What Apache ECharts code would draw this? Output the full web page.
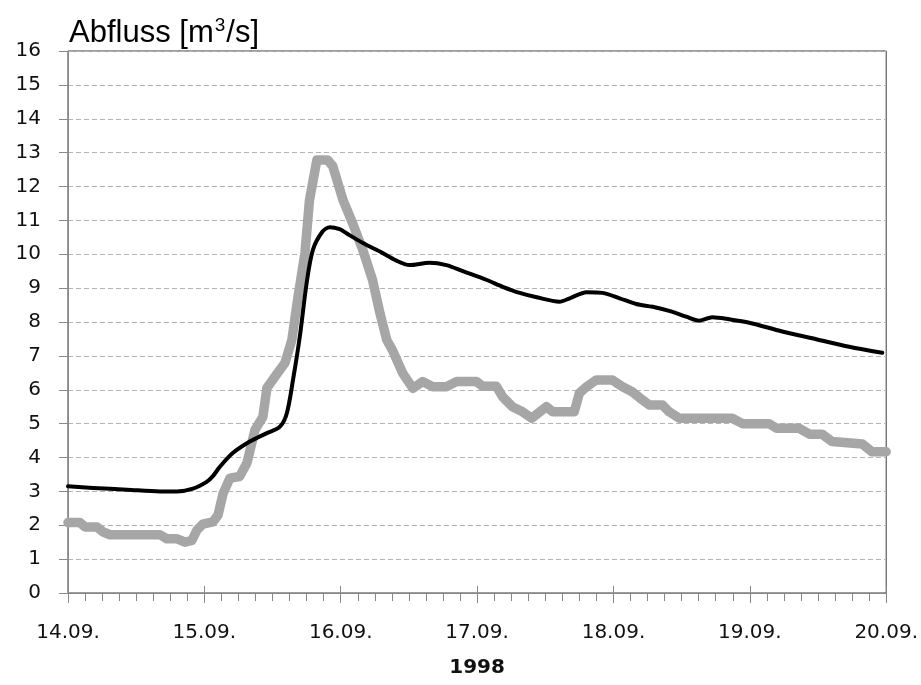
<!DOCTYPE html>
<html>
<head>
<meta charset="utf-8">
<script src="https://cdn.jsdelivr.net/npm/echarts@6/dist/echarts.min.js"></script>
<style>
html,body{margin:0;padding:0;background:#fff;}
#chart{width:921px;height:685px;}
</style>
</head>
<body>
<div id="chart"></div>
<script>
// Tick labels (days) and axis text
var dayLabels = ['14.09.', '15.09.', '16.09.', '17.09.', '18.09.', '19.09.', '20.09.'];
var yearLabel = '1998';

// Black series: hours since 14.09. 00:00 and discharge [m3/s]
var blackHours = [0, 4.4, 10.4, 16.2, 19.2, 22, 24.4, 25.5, 26.7, 29, 32, 35, 37.3, 38.5, 39.6, 40.8, 42, 43.1, 44.8, 46.1, 47.8, 49, 51.9, 54.9, 57.8, 60.1, 63.6, 66.6, 69.5, 73.7, 76.5, 79.5, 82.5, 86.5, 88.3, 91.3, 94.1, 97.1, 100, 102.9, 105.8, 108.8, 111.1, 113.4, 116.4, 119.9, 125.7, 131.7, 137.5, 143.3];
var blackValues = [3.15, 3.1, 3.05, 3.0, 3.0, 3.08, 3.28, 3.45, 3.72, 4.13, 4.47, 4.72, 4.91, 5.3, 6.29, 7.57, 9.15, 10.13, 10.67, 10.8, 10.74, 10.62, 10.33, 10.08, 9.81, 9.68, 9.75, 9.68, 9.5, 9.24, 9.04, 8.86, 8.73, 8.6, 8.7, 8.88, 8.86, 8.7, 8.53, 8.45, 8.33, 8.16, 8.04, 8.14, 8.08, 7.98, 7.72, 7.49, 7.27, 7.09];

// Grey series
var greyHours = [0, 2.1, 3, 5.1, 6.2, 7.4, 16.2, 17.4, 19.2, 20.6, 21.8, 22.7, 23.7, 25.5, 26.4, 27.3, 28.5, 30.2, 31.5, 32.9, 34.3, 35, 36.7, 38.2, 39.4, 40.4, 41.7, 42.5, 43.8, 45.7, 46.6, 48.4, 50.1, 51.9, 53.6, 54.9, 56.1, 57.1, 58.9, 60.7, 62.4, 64.2, 66.6, 68.4, 71.9, 73, 75.4, 76.5, 78.2, 80, 81.6, 84.2, 85.3, 89.1, 90, 91.3, 93, 95.8, 97.6, 99.3, 101.1, 102.3, 104.6, 105.8, 107.6, 116.9, 118.7, 123.4, 124.7, 128.7, 130.5, 132.7, 134.5, 139.8, 141.5, 144];
var greyValues = [2.08, 2.08, 1.95, 1.95, 1.8, 1.72, 1.72, 1.6, 1.6, 1.5, 1.55, 1.86, 2.03, 2.1, 2.3, 2.94, 3.39, 3.44, 3.84, 4.81, 5.2, 6.05, 6.45, 6.8, 7.47, 8.65, 10.03, 11.6, 12.78, 12.78, 12.6, 11.6, 10.91, 10.12, 9.24, 8.26, 7.47, 7.17, 6.49, 6.04, 6.24, 6.09, 6.09, 6.24, 6.24, 6.1, 6.1, 5.79, 5.5, 5.35, 5.16, 5.5, 5.35, 5.35, 5.9, 6.09, 6.29, 6.29, 6.09, 5.94, 5.7, 5.55, 5.55, 5.35, 5.16, 5.16, 5.0, 5.0, 4.86, 4.86, 4.69, 4.69, 4.47, 4.4, 4.17, 4.17];

function pairs(xs, ys) { return xs.map(function (x, i) { return [x, ys[i]]; }); }

var chart = echarts.init(document.getElementById('chart'));
var labelFont = 'DejaVu Sans';
chart.setOption({
  animation: false,
  backgroundColor: '#ffffff',
  title: {
    text: '{m|Abfluss [m}{s|3}{m|/s]}',
    left: 64, top: 11,
    textStyle: {
      fontWeight: 'normal',
      rich: {
        m: { fontFamily: 'Liberation Sans', fontSize: 31, fontWeight: 'normal', color: '#000', lineHeight: 34 },
        s: { fontFamily: 'Liberation Sans', fontSize: 19, fontWeight: 'normal', color: '#000', verticalAlign: 'top', lineHeight: 34, padding: [0, 1, 12, 1] }
      }
    }
  },
  grid: { left: 68, right: 34, top: 51, bottom: 92, show: true, borderColor: '#3a3a3a', borderWidth: 1, backgroundColor: 'transparent' },
  xAxis: [{
    type: 'value', min: 0, max: 144, interval: 24,
    axisLine: { show: true, onZero: false, lineStyle: { color: '#888', width: 1 } },
    axisTick: { show: true, length: 10, lineStyle: { color: '#888' } },
    minorTick: { show: true, splitNumber: 8, length: 8, lineStyle: { color: '#888' } },
    splitLine: { show: false },
    axisLabel: {
      margin: 30, fontFamily: labelFont, fontSize: 20, color: '#111',
      formatter: function (v) { return dayLabels[Math.round(v / 24)]; }
    },
    name: yearLabel, nameLocation: 'middle', nameGap: 65,
    nameTextStyle: { fontFamily: labelFont, fontSize: 20, fontWeight: 'bold', color: '#111' }
  }, {
    type: 'value', min: 0, max: 144, interval: 24, position: 'bottom',
    axisLine: { show: false },
    axisTick: { show: true, inside: true, length: 7, lineStyle: { color: '#888' } },
    axisLabel: { show: false }, splitLine: { show: false }
  }],
  yAxis: {
    type: 'value', min: 0, max: 16, interval: 1,
    axisLine: { show: true, lineStyle: { color: '#888', width: 1 } },
    axisTick: { show: true, length: 9, lineStyle: { color: '#888' } },
    splitLine: { show: true, lineStyle: { color: '#b4b4b4', type: [5, 3], width: 1 } },
    axisLabel: { margin: 27, fontFamily: labelFont, fontSize: 20, color: '#111' }
  },
  series: [{
    type: 'line', data: pairs(greyHours, greyValues), showSymbol: false, smooth: false,
    lineStyle: { color: '#a6a6a6', width: 9.5, cap: 'round', join: 'round' }, z: 2
  }, {
    type: 'line', data: pairs(blackHours, blackValues), showSymbol: false, smooth: 0.3,
    lineStyle: { color: '#000', width: 4, cap: 'round', join: 'round' }, z: 3
  }]
});
</script>
</body>
</html>
